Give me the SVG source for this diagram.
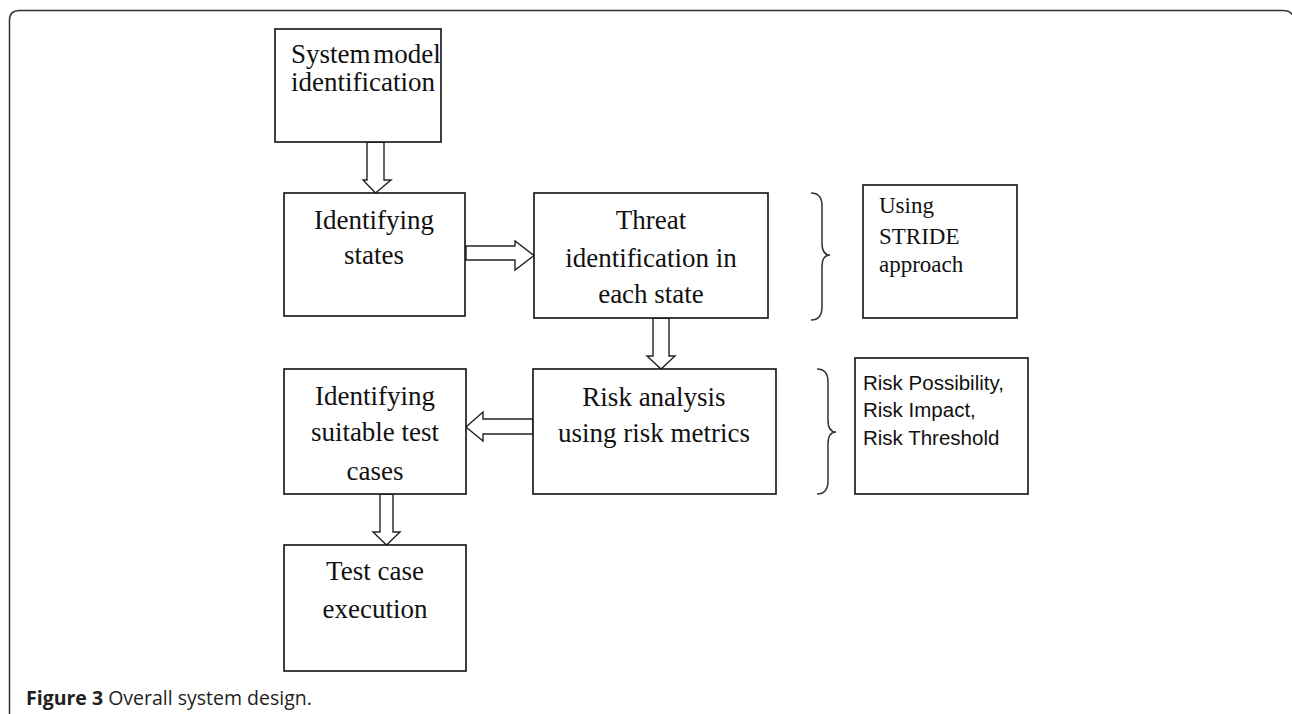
<svg xmlns="http://www.w3.org/2000/svg" width="1292" height="714" viewBox="0 0 1292 714">
<style>
.box{fill:#fff;stroke:#111;stroke-width:1.6}
.arr{fill:#fff;stroke:#222;stroke-width:1.4;stroke-linejoin:miter}
.br{fill:none;stroke:#333;stroke-width:1.5}
.t{font-family:"Liberation Serif","Times New Roman",serif;font-size:27px;fill:#111}
.c{text-anchor:middle}
.s{font-family:"Liberation Serif",serif;font-size:23px;fill:#111}
.k{font-family:"Liberation Sans",Arial,sans-serif;font-size:20.5px;fill:#111}
.cap{font-family:"Open Sans","Liberation Sans",sans-serif;font-size:19.5px;fill:#231f20}
</style>
<rect width="1292" height="714" fill="#fff"/>
<path d="M9.5,714 V20 Q9.5,10.5 19.5,10.5 H1282 Q1291,10.5 1293,16" fill="none" stroke="#333" stroke-width="1.5"/>
<g id="connectors">
<polygon class="arr" points="367,142 384,142 384,180 391,180 375.5,193 363,180 367,180"/>
<polygon class="arr" points="466,246 515,246 515,241 534,255.5 515,270 515,260 466,260"/>
<polygon class="arr" points="653,318 669,318 669,356 675,356 661,369 647,356 653,356"/>
<polygon class="arr" points="533,419 483,419 483,412 466,427 483,441 483,434 533,434"/>
<polygon class="arr" points="380,494 393,494 393,532 400,532 386.5,545 373,532 380,532"/>
</g>
<g id="n1"><rect class="box" x="275" y="29" width="166" height="113"/>
<text class="t" x="291" y="63" font-size="26" word-spacing="-4">System model</text><text class="t" x="291" y="91" font-size="26">identification</text></g>
<g id="n2"><rect class="box" x="284" y="193" width="181" height="123"/>
<text class="t c" x="374" y="229">Identifying</text><text class="t c" x="374" y="264">states</text></g>
<g id="n3"><rect class="box" x="534" y="193" width="234" height="125"/>
<text class="t c" x="651" y="229">Threat</text><text class="t c" x="651" y="267">identification in</text><text class="t c" x="651" y="303">each state</text></g>
<g id="b1"><path class="br" d="M811,193 Q822,193 822,206 V243 Q822,255 830,255 Q822,255 822,267 V307 Q822,320 811,320"/></g>
<g id="n4"><rect class="box" x="863" y="185" width="154" height="133"/>
<text class="s" x="879" y="213">Using</text><text class="s" x="879" y="244">STRIDE</text><text class="s" x="879" y="272">approach</text></g>
<g id="n5"><rect class="box" x="533" y="369" width="243" height="125"/>
<text class="t c" x="654" y="406">Risk analysis</text><text class="t c" x="654" y="442">using risk metrics</text></g>
<g id="b2"><path class="br" d="M817,369 Q828,369 828,382 V420 Q828,432 836,432 Q828,432 828,444 V481 Q828,494 817,494"/></g>
<g id="n6"><rect class="box" x="855" y="358" width="173" height="136"/>
<text class="k" x="863" y="390">Risk Possibility,</text><text class="k" x="863" y="417">Risk Impact,</text><text class="k" x="863" y="445">Risk Threshold</text></g>
<g id="n7"><rect class="box" x="284" y="369" width="182" height="125"/>
<text class="t c" x="375" y="405">Identifying</text><text class="t c" x="375" y="441">suitable test</text><text class="t c" x="375" y="480">cases</text></g>
<g id="n8"><rect class="box" x="284" y="545" width="182" height="126"/>
<text class="t c" x="375" y="580">Test case</text><text class="t c" x="375" y="618">execution</text></g>
<text class="cap" x="26" y="705"><tspan font-weight="bold">Figure 3</tspan> Overall system design.</text>
</svg>
